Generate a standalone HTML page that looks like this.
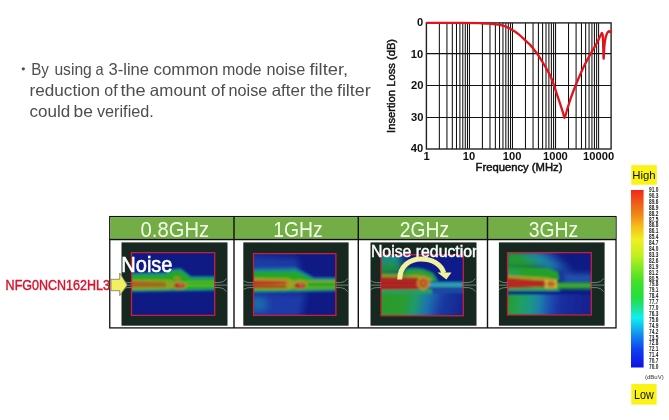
<!DOCTYPE html>
<html><head><meta charset="utf-8"><style>
html,body{margin:0;padding:0;background:#fff;width:669px;height:420px;overflow:hidden}
svg{display:block;will-change:transform}
text{font-family:"Liberation Sans",sans-serif}
</style></head><body>
<svg width="669" height="420" viewBox="0 0 669 420">
<defs>
<filter id="bl2" x="-30%" y="-30%" width="160%" height="160%"><feGaussianBlur stdDeviation="3.5"/></filter>
<filter id="bl" x="-20%" y="-20%" width="140%" height="140%"><feGaussianBlur stdDeviation="1.1"/></filter>
<linearGradient id="cb" x1="0" y1="0" x2="0" y2="1">
<stop offset="0" stop-color="#f02818"/>
<stop offset="0.056" stop-color="#f05018"/>
<stop offset="0.14" stop-color="#f08818"/>
<stop offset="0.21" stop-color="#f8c018"/>
<stop offset="0.28" stop-color="#f0f020"/>
<stop offset="0.37" stop-color="#c0f020"/>
<stop offset="0.44" stop-color="#80e820"/>
<stop offset="0.52" stop-color="#40e028"/>
<stop offset="0.61" stop-color="#20e040"/>
<stop offset="0.65" stop-color="#20e080"/>
<stop offset="0.72" stop-color="#10f0f0"/>
<stop offset="0.76" stop-color="#10c8f0"/>
<stop offset="0.82" stop-color="#1088f0"/>
<stop offset="0.90" stop-color="#1040f0"/>
<stop offset="1" stop-color="#1010e0"/>
</linearGradient>
<linearGradient id="hg1" gradientUnits="userSpaceOnUse" x1="131" y1="0" x2="170" y2="0">
<stop offset="0" stop-color="#c06a28"/><stop offset="0.4" stop-color="#b07a24"/><stop offset="0.8" stop-color="#98901e"/><stop offset="1" stop-color="#8aa020"/></linearGradient>
<linearGradient id="hg2" gradientUnits="userSpaceOnUse" x1="253" y1="0" x2="290" y2="0">
<stop offset="0" stop-color="#c85030"/><stop offset="0.6" stop-color="#c06a28"/><stop offset="1" stop-color="#a89020"/></linearGradient>
<linearGradient id="hg3" gradientUnits="userSpaceOnUse" x1="381" y1="296" x2="463" y2="314">
<stop offset="0" stop-color="#2a9a2a"/><stop offset="0.28" stop-color="#2a9c30"/><stop offset="0.42" stop-color="#1e9a70"/><stop offset="0.56" stop-color="#1e72b0"/><stop offset="0.72" stop-color="#1a3ca2"/><stop offset="1" stop-color="#12228e"/></linearGradient>
<linearGradient id="hg4" gradientUnits="userSpaceOnUse" x1="508" y1="300" x2="591" y2="306">
<stop offset="0" stop-color="#2a9a30"/><stop offset="0.1" stop-color="#22a050"/><stop offset="0.25" stop-color="#1e9a80"/><stop offset="0.38" stop-color="#1e80a8"/><stop offset="0.5" stop-color="#1e50b0"/><stop offset="0.62" stop-color="#1a30a0"/><stop offset="1" stop-color="#12208c"/></linearGradient>
<clipPath id="k3t"><rect x="370.5" y="242.4" width="106" height="83.3"/></clipPath>
</defs>
<rect width="669" height="420" fill="#fff"/>

<g fill="#4e4e4e" font-size="16.5">
<circle cx="23.3" cy="68.8" r="1.6"/>
<text x="31.26" y="75" textLength="17.69" lengthAdjust="spacingAndGlyphs">By</text>
<text x="54.40" y="75" textLength="37.44" lengthAdjust="spacingAndGlyphs">using</text>
<text x="95.38" y="75" textLength="8.10" lengthAdjust="spacingAndGlyphs">a</text>
<text x="108.55" y="75" textLength="40.46" lengthAdjust="spacingAndGlyphs">3-line</text>
<text x="153.48" y="75" textLength="64.91" lengthAdjust="spacingAndGlyphs">common</text>
<text x="222.26" y="75" textLength="39.13" lengthAdjust="spacingAndGlyphs">mode</text>
<text x="266.42" y="75" textLength="38.82" lengthAdjust="spacingAndGlyphs">noise</text>
<text x="309.42" y="75" textLength="38.74" lengthAdjust="spacingAndGlyphs">filter,</text>
<text x="29.56" y="96" textLength="70.56" lengthAdjust="spacingAndGlyphs">reduction</text>
<text x="104.32" y="96" textLength="13.34" lengthAdjust="spacingAndGlyphs">of</text>
<text x="120.42" y="96" textLength="25.29" lengthAdjust="spacingAndGlyphs">the</text>
<text x="149.88" y="96" textLength="56.46" lengthAdjust="spacingAndGlyphs">amount</text>
<text x="210.98" y="96" textLength="14.18" lengthAdjust="spacingAndGlyphs">of</text>
<text x="228.62" y="96" textLength="38.71" lengthAdjust="spacingAndGlyphs">noise</text>
<text x="271.68" y="96" textLength="33.89" lengthAdjust="spacingAndGlyphs">after</text>
<text x="309.74" y="96" textLength="23.51" lengthAdjust="spacingAndGlyphs">the</text>
<text x="336.93" y="96" textLength="33.81" lengthAdjust="spacingAndGlyphs">filter</text>
<text x="29.58" y="116.5" textLength="40.75" lengthAdjust="spacingAndGlyphs">could</text>
<text x="73.49" y="116.5" textLength="19.35" lengthAdjust="spacingAndGlyphs">be</text>
<text x="96.95" y="116.5" textLength="56.90" lengthAdjust="spacingAndGlyphs">verified.</text>
</g>

<g stroke="#111" stroke-width="1.05" fill="none"><path d="M439.36 22.9V149"/><path d="M446.94 22.9V149"/><path d="M452.32 22.9V149"/><path d="M456.49 22.9V149"/><path d="M459.90 22.9V149"/><path d="M462.78 22.9V149"/><path d="M465.28 22.9V149"/><path d="M467.48 22.9V149"/><path d="M469.45 22.9V149"/><path d="M482.41 22.9V149"/><path d="M489.99 22.9V149"/><path d="M495.37 22.9V149"/><path d="M499.54 22.9V149"/><path d="M502.95 22.9V149"/><path d="M505.83 22.9V149"/><path d="M508.33 22.9V149"/><path d="M510.53 22.9V149"/><path d="M512.50 22.9V149"/><path d="M525.46 22.9V149"/><path d="M533.04 22.9V149"/><path d="M538.42 22.9V149"/><path d="M542.59 22.9V149"/><path d="M546.00 22.9V149"/><path d="M548.88 22.9V149"/><path d="M551.38 22.9V149"/><path d="M553.58 22.9V149"/><path d="M555.55 22.9V149"/><path d="M568.51 22.9V149"/><path d="M576.09 22.9V149"/><path d="M581.47 22.9V149"/><path d="M585.64 22.9V149"/><path d="M589.05 22.9V149"/><path d="M591.93 22.9V149"/><path d="M594.43 22.9V149"/><path d="M596.63 22.9V149"/><path d="M598.60 22.9V149"/><path d="M426.4 53.60H611.1"/><path d="M426.4 85.50H611.1"/><path d="M426.4 117.50H611.1"/></g>
<g stroke="#222" stroke-width="1.4" fill="none"><rect x="426.4" y="22.9" width="184.7" height="126.1" /></g>
</g>
<path d="M426.40 22.90 C432.00 22.90 451.07 22.85 460.00 22.90 C468.93 22.95 475.00 23.07 480.00 23.20 C485.00 23.33 486.27 23.33 490.00 23.70 C493.73 24.07 498.88 24.48 502.40 25.40 C505.92 26.32 508.42 27.75 511.10 29.20 C513.78 30.65 516.03 32.15 518.50 34.10 C520.97 36.05 523.98 39.15 525.90 40.90 C527.82 42.65 528.65 43.15 530.00 44.60 C531.35 46.05 532.58 47.77 534.00 49.60 C535.42 51.43 537.08 53.53 538.50 55.60 C539.92 57.67 541.22 59.88 542.50 62.00 C543.78 64.12 545.03 66.25 546.20 68.30 C547.37 70.35 548.48 72.27 549.50 74.30 C550.52 76.33 551.17 77.48 552.30 80.50 C553.43 83.52 554.95 88.38 556.30 92.40 C557.65 96.42 559.28 101.23 560.40 104.60 C561.52 107.97 562.30 110.40 563.00 112.60 C563.70 114.80 563.93 118.23 564.60 117.80 C565.27 117.37 566.10 112.88 567.00 110.00 C567.90 107.12 569.00 103.50 570.00 100.50 C571.00 97.50 571.92 94.88 573.00 92.00 C574.08 89.12 575.37 85.95 576.50 83.20 C577.63 80.45 578.50 78.43 579.80 75.50 C581.10 72.57 582.77 68.73 584.30 65.60 C585.83 62.47 587.42 59.58 589.00 56.70 C590.58 53.82 592.38 50.78 593.80 48.30 C595.22 45.82 596.42 43.85 597.50 41.80 C598.58 39.75 599.55 37.47 600.30 36.00 C601.05 34.53 601.57 32.83 602.00 33.00 C602.43 33.17 602.63 32.75 602.90 37.00 C603.17 41.25 603.35 57.00 603.60 58.50 C603.85 60.00 604.08 49.37 604.40 46.00 C604.72 42.63 605.05 40.43 605.50 38.30 C605.95 36.17 606.48 34.38 607.10 33.20 C607.72 32.02 608.65 31.37 609.20 31.20 C609.75 31.03 610.07 32.30 610.40 32.20 C610.73 32.10 611.07 30.87 611.20 30.60" fill="none" stroke="#e0141c" stroke-width="2.3" stroke-linejoin="round"/>
<g font-size="11.2" font-weight="bold" fill="#111" text-anchor="end">
<text x="423.2" y="25.7">0</text>
<text x="423.2" y="57.7">10</text>
<text x="423.4" y="89.2">20</text>
<text x="423.4" y="121.3">30</text>
<text x="423.2" y="152">40</text>
</g>
<g font-size="11.2" font-weight="bold" fill="#111" text-anchor="middle">
<text x="426.6" y="159.9">1</text>
<text x="469" y="159.8">10</text>
<text x="512.1" y="159.8">100</text>
<text x="555.4" y="159.8">1000</text>
<text x="598.6" y="159.8">10000</text>
</g>
<g font-size="10.5" fill="#111" stroke="#111" stroke-width="0.45">
<text x="475.6" y="170.6" font-size="10.4" textLength="86.8" lengthAdjust="spacingAndGlyphs">Frequency (MHz)</text>
<text transform="translate(394.8,132.9) rotate(-90)" textLength="94" lengthAdjust="spacingAndGlyphs">Insertion Loss (dB)</text>
</g>

<rect x="631.3" y="165.1" width="25.5" height="19.6" fill="#faf314"/>
<text x="632.3" y="179.3" font-size="11" fill="#111" textLength="23.4" lengthAdjust="spacingAndGlyphs">High</text>
<rect x="631" y="190" width="12.6" height="177.5" fill="url(#cb)"/>
<rect x="631.3" y="384" width="25.3" height="20.6" fill="#faf314"/>
<text x="634.1" y="398.9" font-size="12.3" fill="#111" textLength="19.8" lengthAdjust="spacingAndGlyphs">Low</text>
<g font-size="6.3" font-weight="bold" fill="#1a1a1a"><text x="649" y="192.0" textLength="9.3" lengthAdjust="spacingAndGlyphs">91.0</text><text x="649" y="197.9" textLength="9.3" lengthAdjust="spacingAndGlyphs">90.3</text><text x="649" y="203.8" textLength="9.3" lengthAdjust="spacingAndGlyphs">89.6</text><text x="649" y="209.7" textLength="9.3" lengthAdjust="spacingAndGlyphs">88.9</text><text x="649" y="215.6" textLength="9.3" lengthAdjust="spacingAndGlyphs">88.2</text><text x="649" y="221.5" textLength="9.3" lengthAdjust="spacingAndGlyphs">87.5</text><text x="649" y="227.4" textLength="9.3" lengthAdjust="spacingAndGlyphs">86.8</text><text x="649" y="233.3" textLength="9.3" lengthAdjust="spacingAndGlyphs">86.1</text><text x="649" y="239.2" textLength="9.3" lengthAdjust="spacingAndGlyphs">85.4</text><text x="649" y="245.1" textLength="9.3" lengthAdjust="spacingAndGlyphs">84.7</text><text x="649" y="251.0" textLength="9.3" lengthAdjust="spacingAndGlyphs">84.0</text><text x="649" y="256.9" textLength="9.3" lengthAdjust="spacingAndGlyphs">83.3</text><text x="649" y="262.8" textLength="9.3" lengthAdjust="spacingAndGlyphs">82.6</text><text x="649" y="268.7" textLength="9.3" lengthAdjust="spacingAndGlyphs">81.9</text><text x="649" y="274.6" textLength="9.3" lengthAdjust="spacingAndGlyphs">81.2</text><text x="649" y="280.5" textLength="9.3" lengthAdjust="spacingAndGlyphs">80.5</text><text x="649" y="286.4" textLength="9.3" lengthAdjust="spacingAndGlyphs">79.8</text><text x="649" y="292.3" textLength="9.3" lengthAdjust="spacingAndGlyphs">79.1</text><text x="649" y="298.2" textLength="9.3" lengthAdjust="spacingAndGlyphs">78.4</text><text x="649" y="304.1" textLength="9.3" lengthAdjust="spacingAndGlyphs">77.7</text><text x="649" y="310.0" textLength="9.3" lengthAdjust="spacingAndGlyphs">77.0</text><text x="649" y="315.9" textLength="9.3" lengthAdjust="spacingAndGlyphs">76.3</text><text x="649" y="321.8" textLength="9.3" lengthAdjust="spacingAndGlyphs">75.6</text><text x="649" y="327.7" textLength="9.3" lengthAdjust="spacingAndGlyphs">74.9</text><text x="649" y="333.6" textLength="9.3" lengthAdjust="spacingAndGlyphs">74.2</text><text x="649" y="339.5" textLength="9.3" lengthAdjust="spacingAndGlyphs">73.5</text><text x="649" y="345.4" textLength="9.3" lengthAdjust="spacingAndGlyphs">72.8</text><text x="649" y="351.3" textLength="9.3" lengthAdjust="spacingAndGlyphs">72.1</text><text x="649" y="357.2" textLength="9.3" lengthAdjust="spacingAndGlyphs">71.4</text><text x="649" y="363.1" textLength="9.3" lengthAdjust="spacingAndGlyphs">70.7</text><text x="649" y="369.0" textLength="9.3" lengthAdjust="spacingAndGlyphs">70.0</text></g>
<text x="645" y="379" font-size="6" fill="#333">(dBuV)</text>

<rect x="109.75" y="216.6" width="506.25" height="111.3" fill="#fff" stroke="#111" stroke-width="1.3"/>
<rect x="110.3" y="217.2" width="505.2" height="21.6" fill="#72ad46"/>
<path d="M109.5 239.5H616 M234 216.6V327.9 M358.3 216.6V327.9 M487.5 216.6V327.9" stroke="#111" stroke-width="1.4"/>
<g font-size="21.6" fill="#f4ffe8">
<text x="140.6" y="236.6" textLength="68.5" lengthAdjust="spacingAndGlyphs">0.8GHz</text>
<text x="273.2" y="236.6" textLength="49.5" lengthAdjust="spacingAndGlyphs">1GHz</text>
<text x="399.8" y="236.6" textLength="49.3" lengthAdjust="spacingAndGlyphs">2GHz</text>
<text x="528.7" y="236.6" textLength="49.5" lengthAdjust="spacingAndGlyphs">3GHz</text>
</g>
<rect x="121.5" y="242.4" width="106" height="83.3" fill="#16281f"/><clipPath id="k1"><rect x="131.5" y="252.6" width="83.2" height="62.8"/></clipPath><g clip-path="url(#k1)"><rect x="131.5" y="252.6" width="83.2" height="62.8" fill="#0f1a84"/><g filter="url(#bl)"><path d="M125 272.5L166 272.0Q169 268 181 268L191 276L220 276L220 290.8L125 292.3Z" fill="#1a6aa0"/><path d="M125 274L166 273.5Q169 269.5 181 269.5L191 277.3L220 277.3L220 289.8L125 291.2Z" fill="#1a9a6a"/><path d="M125 276L166 275.5Q169 271.5 181 271.5L191 279.3L220 279.3L220 288.6L125 290Z" fill="#22a820"/>
<path d="M125 279.5L168 279.8L174 281L174 288L168 289.2L125 289.5Z" fill="#8aa420"/>
<path d="M125 281.3L166 281.6L166 286.8L125 287Z" fill="url(#hg1)"/>
<path d="M125 283L166 283.2 M125 286L166 285.9" stroke="#984018" stroke-width="1.1"/>
<path d="M186 282H220 M186 285.6H220" stroke="#90d038" stroke-width="0.9"/>
<ellipse cx="179.5" cy="285.3" rx="8" ry="4.2" fill="#98a028"/>
<ellipse cx="179.5" cy="285.5" rx="5.5" ry="2.6" fill="#b01c20"/>
<ellipse cx="180.5" cy="285" rx="2.5" ry="1.2" fill="#e06060"/>
<ellipse cx="177" cy="278.3" rx="3" ry="1.8" fill="#b08020"/>
</g></g><rect x="131.5" y="252.6" width="83.2" height="62.8" fill="none" stroke="#c8203a" stroke-width="1.3"/><g stroke="#9cb09c" stroke-width="0.8" fill="none" opacity="0.85"><path d="M121.5 280.6Q124.5 282.6 127.5 282.6H131.5 M121.5 285.1H131.5 M121.5 289.6Q124.5 287.6 127.5 287.6H131.5"/><path d="M214.7 282.6H219.5 Q223.5 282.6 226.5 278.6 M214.7 285.1H227.5 M214.7 287.6H219.5 Q223.5 287.6 226.5 291.6"/></g><rect x="243.3" y="242.4" width="105.3" height="83.3" fill="#16281f"/><clipPath id="k2"><rect x="253.5" y="253.6" width="82.4" height="61.8"/></clipPath><g clip-path="url(#k2)"><rect x="253.5" y="253.6" width="82.4" height="61.8" fill="#0f1a84"/><g filter="url(#bl)">
<g filter="url(#bl2)"><path d="M248 255L298 258L300 272L248 272Z" fill="#1a3aa4"/><path d="M248 292L306 293L300 320L248 320Z" fill="#1a3aa8"/><path d="M248 297L266 298L266 310L248 310Z" fill="#1c6cac"/></g>
<path d="M250 267.5L290 267.0Q293 266.5 295 266.5L314 277L340 277L340 291.5L250 293Z" fill="#1a60a8"/><path d="M250 270L290 269.5Q293 269 295 269L314 278.5L340 278.5L340 290.5L250 292Z" fill="#1a9080"/><path d="M250 272.5L290 272.0Q293 271.5 295 271.5L314 280L340 280L340 289.5L250 291Z" fill="#20a820"/>
<path d="M250 278L288 278.2L294 280.5L340 281L340 287.8L294 288L288 289.5L250 289.5Z" fill="#a0a020"/>
<path d="M340 282L307 282L307 287L340 287Z" fill="#14a020"/>
<path d="M250 280L288 280.2L288 287.5L250 287.6Z" fill="url(#hg2)"/>
<path d="M250 283L286 283.1" stroke="#b02020" stroke-width="1.8"/>
<path d="M250 286.8L286 286.7" stroke="#902010" stroke-width="1.4"/>
<path d="M307 283H340 M307 286H340" stroke="#40c040" stroke-width="0.9"/>
<ellipse cx="299.5" cy="284.5" rx="8" ry="5" fill="#98a028"/>
<ellipse cx="300" cy="285.6" rx="5.5" ry="2.6" fill="#b01c20"/>
<ellipse cx="301" cy="285.2" rx="2.5" ry="1.2" fill="#e06060"/>
</g></g><rect x="253.5" y="253.6" width="82.4" height="61.8" fill="none" stroke="#c8203a" stroke-width="1.3"/><g stroke="#9cb09c" stroke-width="0.8" fill="none" opacity="0.85"><path d="M243.3 280.6Q246.3 282.6 249.3 282.6H253.5 M243.3 285.1H253.5 M243.3 289.6Q246.3 287.6 249.3 287.6H253.5"/><path d="M335.9 282.6H340.6 Q344.6 282.6 347.6 278.6 M335.9 285.1H348.6 M335.9 287.6H340.6 Q344.6 287.6 347.6 291.6"/></g><rect x="370.5" y="242.4" width="106" height="83.3" fill="#16281f"/><clipPath id="k3"><rect x="381" y="254.7" width="82.3" height="61.1"/></clipPath><g clip-path="url(#k3)"><rect x="381" y="254.7" width="82.3" height="61.1" fill="#0f1a84"/><g filter="url(#bl)">
<rect x="376" y="250" width="92" height="70" fill="#101e8a"/>
<g filter="url(#bl2)">
<path d="M376 250L400 250L403 272L376 274Z" fill="#1c8a8a"/>
<path d="M376 262L400 262L402 274L376 276Z" fill="#1e9040"/>
</g>
<path d="M376 293L466 293L466 320L376 320Z" fill="url(#hg3)"/>
<path d="M401 281L405 269.7Q419 265.5 433 273.5L438 281Z" fill="#1e9a4a"/>
<path d="M403 281L407 273Q420 269.5 431 276L434 281Z" fill="#409e2a"/>
<path d="M376 274L404 274L406 281L376 281Z" fill="#7a9e24"/>
<path d="M406 276Q420 273 432 279L432 281L406 281Z" fill="#90a828"/>
<path d="M426 282.3L466 282.3L466 287.6L426 287.6Z" fill="#2aa0b0"/>
<path d="M430 287.6L466 287.6L466 293L430 293Z" fill="#1a48a0"/>
<path d="M376 289L432 289L432 293.5L376 293.5Z" fill="#22a060"/>
<path d="M376 277.3L418 277.8L419 289.2L376 289.8Z" fill="#a81e1e"/>
<path d="M376 280.8H417 M376 285.2H417" stroke="#c03830" stroke-width="1"/>
<circle cx="423.3" cy="283.3" r="6.5" fill="#c88828"/>
<circle cx="423.3" cy="283.3" r="4.2" fill="#b05020"/>
<circle cx="423.3" cy="283.3" r="2.2" fill="#c87028"/>
</g></g><rect x="381" y="254.7" width="82.3" height="61.1" fill="none" stroke="#c8203a" stroke-width="1.3"/><g stroke="#9cb09c" stroke-width="0.8" fill="none" opacity="0.85"><path d="M370.5 280.6Q373.5 282.6 376.5 282.6H381 M370.5 285.1H381 M370.5 289.6Q373.5 287.6 376.5 287.6H381"/><path d="M463.3 282.6H468.5 Q472.5 282.6 475.5 278.6 M463.3 285.1H476.5 M463.3 287.6H468.5 Q472.5 287.6 475.5 291.6"/></g><rect x="498.9" y="242.4" width="105.7" height="83.3" fill="#16281f"/><clipPath id="k4"><rect x="507.5" y="252.6" width="83.8" height="62.4"/></clipPath><g clip-path="url(#k4)"><rect x="507.5" y="252.6" width="83.8" height="62.4" fill="#0f1a84"/><g filter="url(#bl)">
<g filter="url(#bl2)">
<path d="M504 250L520 250L546 268L504 270Z" fill="#249a30"/>
<path d="M504 250L512 250L504 256Z" fill="#2a9a80"/>
<path d="M518 250L538 250L564 271L548 271Z" fill="#1e8aa0"/>
<path d="M536 250L550 250L572 272L562 272Z" fill="#1a50a8"/>
<path d="M562 275L595 275L595 282L562 282Z" fill="#2a6cc0"/>
</g>
<path d="M504 294L595 294L595 320L504 320Z" fill="url(#hg4)"/>
<path d="M504 267L548 268L558 272L560 280L504 280Z" fill="#22a02a"/>
<path d="M504 271.5L520 271.5L520 273.5L504 273.5Z" fill="#1aa080"/>
<path d="M504 275L546 277.5L556 279.5L558 283L504 283Z" fill="#a0a028"/>
<path d="M504 277.5L546 281L546 286.5L504 288.5Z" fill="#b02020"/>
<path d="M504 288.5L546 286.5L558 287L558 291L504 291Z" fill="#50a030"/>
<path d="M504 281.2H545 M504 284.8H545" stroke="#c84028" stroke-width="0.9"/>
<path d="M556 282L595 282L595 289.3L556 289.3Z" fill="#1e9436"/>
<path d="M556 285.6H595" stroke="#70b838" stroke-width="1"/>
<path d="M504 289.3L560 289.3L560 290.8L504 290.8Z" fill="#20a080"/><path d="M504 291L595 291L595 294.5L504 294.5Z" fill="#0f1a84"/>
<ellipse cx="551" cy="284" rx="6.5" ry="4.5" fill="#c8a030"/>
<ellipse cx="551" cy="284" rx="3.5" ry="2.2" fill="#b86020"/>
<circle cx="546" cy="281" r="1" fill="#f0e060"/><circle cx="546" cy="287" r="1" fill="#f0e060"/><circle cx="556" cy="281" r="1" fill="#f0e060"/><circle cx="556" cy="287" r="1" fill="#f0e060"/>
</g></g><rect x="507.5" y="252.6" width="83.8" height="62.4" fill="none" stroke="#c8203a" stroke-width="1.3"/><g stroke="#9cb09c" stroke-width="0.8" fill="none" opacity="0.85"><path d="M498.9 280.6Q501.9 282.6 504.9 282.6H507.5 M498.9 285.1H507.5 M498.9 289.6Q501.9 287.6 504.9 287.6H507.5"/><path d="M591.3 282.6H596.6 Q600.6 282.6 603.6 278.6 M591.3 285.1H604.6 M591.3 287.6H596.6 Q600.6 287.6 603.6 291.6"/></g>
<text x="5.6" y="289.8" font-size="14.3" fill="#d8142c" stroke="#d8142c" stroke-width="0.45" textLength="104.3" lengthAdjust="spacingAndGlyphs">NFG0NCN162HL3</text>
<path d="M111 279.3H119.7V273L127.2 285L119.7 295.7V290.7H111Z" fill="#f0f060" stroke="#777" stroke-width="0.8"/>
<text x="121.3" y="272" font-size="21.3" fill="#fff" stroke="#fff" stroke-width="0.6" textLength="51.2" lengthAdjust="spacingAndGlyphs">Noise</text>
<g clip-path="url(#k3t)"><text x="370.9" y="256.7" font-size="15.8" fill="#fff" stroke="#fff" stroke-width="0.45" textLength="110" lengthAdjust="spacingAndGlyphs">Noise reduction</text></g>
<path d="M399.7 279.5C399.7 266 410 259 421 259C432 259 441 264 443.8 273" fill="none" stroke="#f2f29c" stroke-width="5"/>
<path d="M437.5 272.5L451.5 272.5L446.3 279.6Z" fill="#f2f29c"/>
</svg>
</body></html>
